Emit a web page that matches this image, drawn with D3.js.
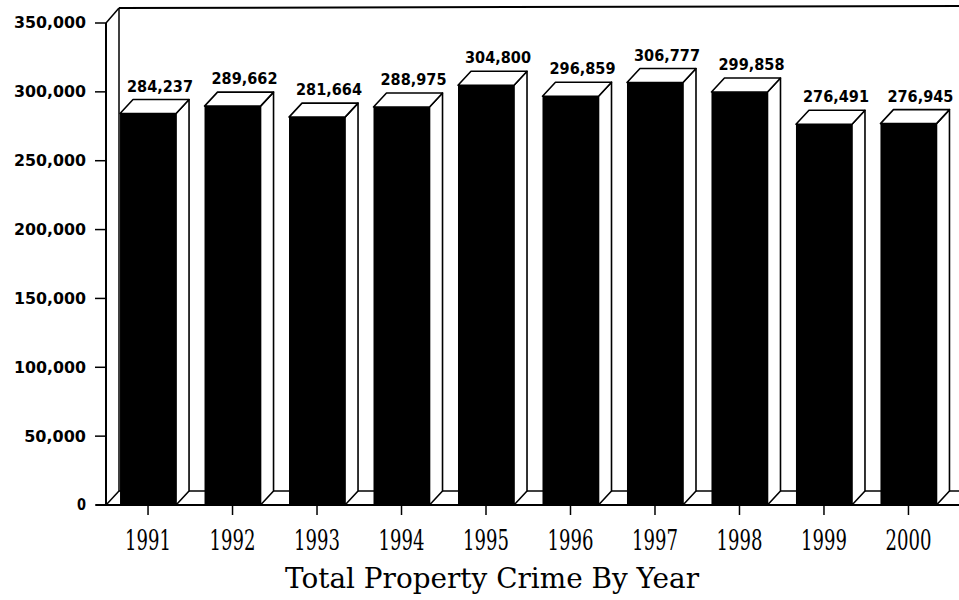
<!DOCTYPE html>
<html><head><meta charset="utf-8">
<script src="https://cdn.jsdelivr.net/npm/d3@7"></script>
<style>body{margin:0;background:#fff}svg{display:block}</style>
</head><body>
<svg id="c" width="959" height="600"></svg>
<script>
const years = ["1991","1992","1993","1994","1995","1996","1997","1998","1999","2000"];
const values = [284237, 289662, 281664, 288975, 304800, 296859, 306777, 299858, 276491, 276945];
const yTicks = [0, 50000, 100000, 150000, 200000, 250000, 300000, 350000];
const title = "Total Property Crime By Year";

const W = 959, H = 600;
const DX = 13, DY = -14;
const svg = d3.select("#c");
const x = d3.scaleBand().domain(years).range([106, 950.5]).paddingInner(0.337).paddingOuter(0.166);
const y = d3.scaleLinear().domain([0, 350000]).range([505, 23]);
const fmt = d3.format(",");
const x0 = 106, base = y(0), yTop = y(350000);

// back wall / floor
const g = svg.append("g").attr("stroke", "#000").attr("fill", "none");
g.append("line").attr("x1", x0 + DX).attr("x2", W).attr("y1", yTop + DY - 1).attr("y2", yTop + DY - 3).attr("stroke-width", 2);
g.append("line").attr("x1", x0 + DX).attr("x2", x0 + DX).attr("y1", yTop + DY - 1).attr("y2", base + DY).attr("stroke-width", 1.5);
g.append("line").attr("x1", x0 + DX).attr("x2", W).attr("y1", base + DY).attr("y2", base + DY).attr("stroke-width", 1.5);
g.append("line").attr("x1", x0).attr("x2", x0 + DX).attr("y1", yTop).attr("y2", yTop + DY - 1).attr("stroke-width", 1.5);
g.append("line").attr("x1", x0).attr("x2", x0 + DX).attr("y1", base).attr("y2", base + DY).attr("stroke-width", 1.5);

// bars
const bars = svg.append("g").selectAll("g").data(years.map((d, i) => ({year: d, v: values[i]}))).join("g");
bars.append("polygon")
  .attr("points", d => {
    const a = x(d.year) + x.bandwidth(), t = y(d.v);
    return [[a, t], [a + DX, t + DY], [a + DX, base + DY], [a, base]].join(" ");
  })
  .attr("fill", "#fff").attr("stroke", "#000").attr("stroke-width", 1.6).attr("stroke-linejoin", "round");
bars.append("polygon")
  .attr("points", d => {
    const a = x(d.year), b = a + x.bandwidth(), t = y(d.v);
    return [[a, t], [a + DX, t + DY], [b + DX, t + DY], [b, t]].join(" ");
  })
  .attr("fill", "#fff").attr("stroke", "#000").attr("stroke-width", 1.6).attr("stroke-linejoin", "round");
bars.append("rect")
  .attr("x", d => x(d.year)).attr("width", x.bandwidth())
  .attr("y", d => y(d.v)).attr("height", d => base - y(d.v))
  .attr("fill", "#000");
bars.append("text")
  .attr("x", d => x(d.year) + x.bandwidth() / 2 + 12)
  .attr("y", d => y(d.v) + DY - 8)
  .attr("text-anchor", "middle")
  .attr("font-family", "DejaVu Sans").attr("font-weight", "bold").attr("font-size", 15)
  .attr("textLength", 66).attr("lengthAdjust", "spacingAndGlyphs")
  .text(d => fmt(d.v));

// front axes
const ax = svg.append("g").attr("stroke", "#000");
ax.append("line").attr("x1", x0).attr("x2", x0).attr("y1", yTop).attr("y2", base).attr("stroke-width", 2);
ax.append("line").attr("x1", 96).attr("x2", W).attr("y1", base).attr("y2", base).attr("stroke-width", 2);
ax.selectAll(".yt").data(yTicks).join("line")
  .attr("x1", 95).attr("x2", x0).attr("y1", d => y(d)).attr("y2", d => y(d)).attr("stroke-width", 1.5);
ax.selectAll(".xt").data(years).join("line")
  .attr("x1", d => x(d) + x.bandwidth() / 2).attr("x2", d => x(d) + x.bandwidth() / 2)
  .attr("y1", base).attr("y2", base + 10).attr("stroke-width", 1.5);

svg.append("g").selectAll("text").data(yTicks).join("text")
  .attr("x", 86).attr("y", d => y(d)).attr("dy", "0.36em")
  .attr("text-anchor", "end")
  .attr("font-family", "DejaVu Sans").attr("font-weight", "bold").attr("font-size", 15)
  .attr("textLength", d => { const n = fmt(d).length; return n === 1 ? 9 : n * 10.3; })
  .attr("lengthAdjust", "spacingAndGlyphs")
  .text(d => fmt(d));

svg.append("g").selectAll("text").data(years).join("text")
  .attr("x", d => x(d) + x.bandwidth() / 2).attr("y", 550)
  .attr("text-anchor", "middle")
  .attr("font-family", "DejaVu Serif").attr("font-size", 27)
  .attr("textLength", 46).attr("lengthAdjust", "spacingAndGlyphs")
  .text(d => d);

svg.append("text").attr("x", 492).attr("y", 588).attr("text-anchor", "middle")
  .attr("font-family", "DejaVu Serif").attr("font-size", 28)
  .attr("textLength", 414).attr("lengthAdjust", "spacingAndGlyphs")
  .text(title);
</script>
</body></html>
